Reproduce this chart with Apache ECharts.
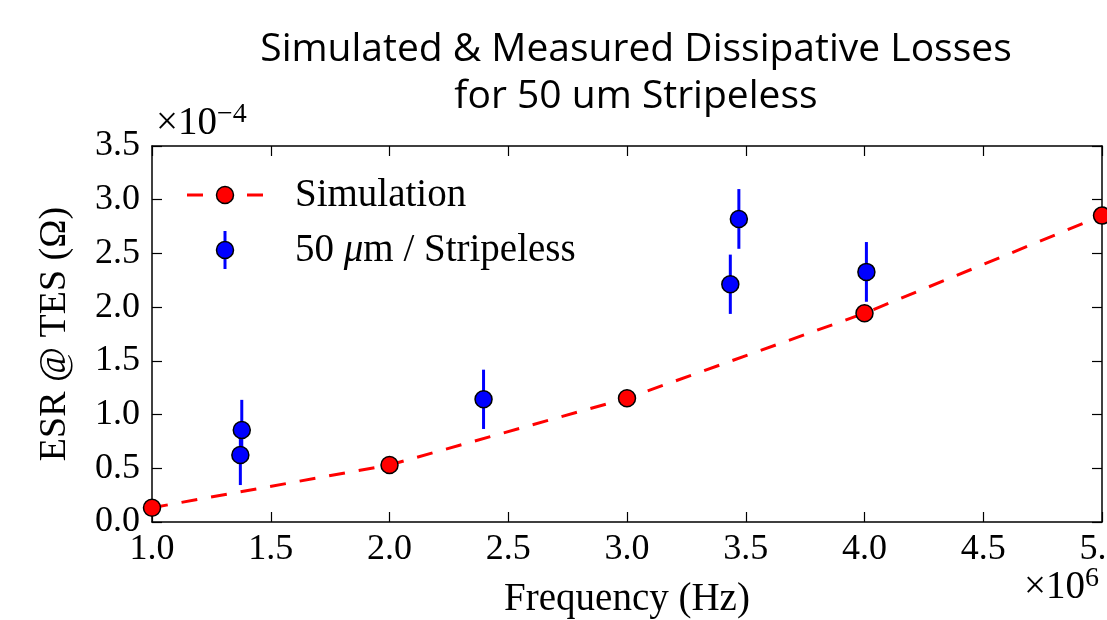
<!DOCTYPE html>
<html>
<head>
<meta charset="utf-8">
<script src="https://cdn.jsdelivr.net/npm/echarts@6/dist/echarts.min.js"></script>
<style>
  html, body { margin: 0; padding: 0; background: #fff; }
  #chart { width: 1107px; height: 620px; }
</style>
</head>
<body>
<div id="chart"></div>
<script>
"use strict";
// 数据: 频率单位 ×10^6 Hz, ESR 单位 ×10^-4 Ω
var simFreq = [1.0, 2.0, 3.0, 4.0, 5.0];
var simEsr = [0.133, 0.531, 1.152, 1.943, 2.852];

var measFreq = [1.378, 1.372, 2.396, 3.435, 3.471, 4.008];
var measEsr = [0.857, 0.624, 1.142, 2.213, 2.821, 2.328];
var measErr = [0.28, 0.28, 0.276, 0.276, 0.278, 0.278];

var xTicks = [1.0, 1.5, 2.0, 2.5, 3.0, 3.5, 4.0, 4.5, 5.0];
var yTicks = [0.0, 0.5, 1.0, 1.5, 2.0, 2.5, 3.0, 3.5];

var serif = '"Liberation Serif", "DejaVu Serif", serif';

var simData = simFreq.map(function (f, i) { return [f, simEsr[i]]; });
var measData = measFreq.map(function (f, i) { return [f, measEsr[i]]; });
var barData = measFreq.map(function (f, i) {
    return [f, measEsr[i] - measErr[i], measEsr[i] + measErr[i]];
});

var myChart = echarts.init(document.getElementById('chart'));

function xAxisOf(pos, labels) {
    return {
        type: 'value',
        position: pos,
        min: xTicks[0],
        max: xTicks[xTicks.length - 1],
        interval: 0.5,
        axisLine: { show: true, onZero: false, lineStyle: { color: '#000', width: 1.5 } },
        axisTick: { show: true, inside: true, length: 10, lineStyle: { color: '#000', width: 1.2 } },
        axisLabel: {
            show: labels,
            margin: 10,
            color: '#000',
            fontFamily: serif,
            fontSize: 36,
            formatter: function (v) { return v.toFixed(1); }
        },
        splitLine: { show: false }
    };
}

function yAxisOf(pos, labels) {
    return {
        type: 'value',
        position: pos,
        min: yTicks[0],
        max: yTicks[yTicks.length - 1],
        interval: 0.5,
        axisLine: { show: true, onZero: false, lineStyle: { color: '#000', width: 1.5 } },
        axisTick: { show: true, inside: true, length: 10, lineStyle: { color: '#000', width: 1.2 } },
        axisLabel: {
            show: labels,
            margin: 12,
            color: '#000',
            fontFamily: serif,
            fontSize: 36,
            formatter: function (v) { return v.toFixed(1); }
        },
        splitLine: { show: false }
    };
}

var xBottom = xAxisOf('bottom', true);
xBottom.name = 'Frequency (Hz)';
xBottom.nameLocation = 'middle';
xBottom.nameGap = 58;
xBottom.nameTextStyle = { color: '#000', fontFamily: serif, fontSize: 39 };

var yLeft = yAxisOf('left', true);
yLeft.name = 'ESR @ TES (Ω)';
yLeft.nameLocation = 'middle';
yLeft.nameGap = 78;
yLeft.nameTextStyle = { color: '#000', fontFamily: serif, fontSize: 38 };

var option = {
    backgroundColor: '#fff',
    animation: false,
    title: {
        text: 'Simulated & Measured Dissipative Losses\nfor 50 um Stripeless',
        left: 631,
        top: 21,
        textAlign: 'center',
        textStyle: {
            fontFamily: '"Open Sans", Lato, sans-serif',
            fontWeight: 'normal',
            fontSize: 39,
            lineHeight: 47,
            color: '#000'
        }
    },
    grid: { left: 152, right: 5, top: 146, bottom: 98, containLabel: false, outerBoundsMode: 'none' },
    xAxis: [xBottom, xAxisOf('top', false)],
    yAxis: [yLeft, yAxisOf('right', false)],
    graphic: [
        // 坐标轴倍数
        {
            type: 'text', left: 156, top: 101,
            style: {
                text: '×10{s|−4}',
                fill: '#000',
                font: '39px ' + serif,
                rich: { s: { fontSize: 28, fontFamily: serif, verticalAlign: 'top', padding: [0, 0, 18, 0] } }
            }
        },
        {
            type: 'text', left: 1024, top: 565,
            style: {
                text: '×10{s|6}',
                fill: '#000',
                font: '39px ' + serif,
                rich: { s: { fontSize: 28, fontFamily: serif, verticalAlign: 'top', padding: [0, 0, 18, 0] } }
            }
        },
        // 图例
        {
            type: 'line', shape: { x1: 187, y1: 195, x2: 263, y2: 195 },
            style: { stroke: '#ff0000', lineWidth: 3, lineDash: [16, 14] }, z: 10
        },
        {
            type: 'circle', shape: { cx: 225, cy: 195, r: 8.5 },
            style: { fill: '#ff0000', stroke: '#000', lineWidth: 1.5 }, z: 11
        },
        {
            type: 'line', shape: { x1: 225, y1: 231, x2: 225, y2: 269 },
            style: { stroke: '#0000ff', lineWidth: 3 }, z: 10
        },
        {
            type: 'circle', shape: { cx: 225, cy: 250, r: 8.5 },
            style: { fill: '#0000ff', stroke: '#000', lineWidth: 1.5 }, z: 11
        },
        {
            type: 'text', left: 295, top: 176,
            style: { text: 'Simulation', fill: '#000', font: '39px ' + serif }, z: 10
        },
        {
            type: 'text', left: 295, top: 231,
            style: {
                text: '50 {i|μ}m / Stripeless',
                fill: '#000',
                font: '39px ' + serif,
                rich: { i: { fontStyle: 'italic', fontSize: 39, fontFamily: serif } }
            }, z: 10
        }
    ],
    series: [
        {
            name: 'Simulation',
            type: 'line',
            data: simData,
            clip: true,
            symbol: 'circle',
            symbolSize: 17,
            lineStyle: { color: '#ff0000', width: 3, type: [16, 14] },
            itemStyle: { color: '#ff0000', borderColor: '#000', borderWidth: 1.5 },
            z: 3
        },
        {
            name: 'errorbars',
            type: 'custom',
            data: barData,
            clip: true,
            renderItem: function (params, api) {
                var p1 = api.coord([api.value(0), api.value(1)]);
                var p2 = api.coord([api.value(0), api.value(2)]);
                return {
                    type: 'line',
                    shape: { x1: p1[0], y1: p1[1], x2: p2[0], y2: p2[1] },
                    style: { stroke: '#0000ff', lineWidth: 3 }
                };
            },
            encode: { x: 0, y: [1, 2] },
            z: 4
        },
        {
            name: '50 μm / Stripeless',
            type: 'scatter',
            data: measData,
            symbol: 'circle',
            symbolSize: 17,
            itemStyle: { color: '#0000ff', borderColor: '#000', borderWidth: 1.5, opacity: 1 },
            z: 5
        }
    ]
};

myChart.setOption(option, true);
</script>
</body>
</html>
